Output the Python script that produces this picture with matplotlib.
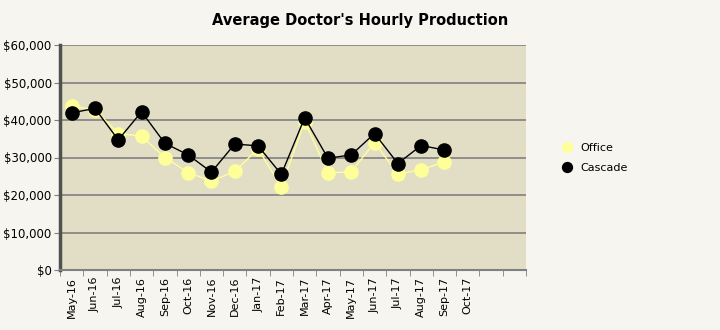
import numpy as np
import matplotlib.pyplot as plt
from matplotlib.ticker import FuncFormatter, FixedLocator

months = ['May-16', 'Jun-16', 'Jul-16', 'Aug-16', 'Sep-16', 'Oct-16', 'Nov-16',
          'Dec-16', 'Jan-17', 'Feb-17', 'Mar-17', 'Apr-17', 'May-17', 'Jun-17',
          'Jul-17', 'Aug-17', 'Sep-17', 'Oct-17']
office = [43700, 42700, 36400, 35700, 30000, 26000, 23700, 26300, 32300, 22200,
          39600, 25900, 26200, 34000, 25600, 26700, 28900, np.nan]
cascade = [41900, 43100, 34700, 42200, 33800, 30700, 26100, 33600, 33100, 25500,
           40600, 29800, 30700, 36400, 28400, 33200, 32000, np.nan]

fig = plt.figure(figsize=(7.2, 3.3), dpi=100, facecolor='#f7f5ef')
ax = fig.add_axes([60/720, 60/330, 466/720, 225/330], facecolor='#e2dec6')

x = np.arange(len(months))
ax.plot(x, office, color='#ffff99', marker='o', markersize=9.5, linewidth=1,
        label='Office', zorder=3)
ax.plot(x, cascade, color='black', marker='o', markersize=9.5, linewidth=1,
        label='Cascade', zorder=4)

ax.set_xlim(-0.5, 19.5)
ax.set_ylim(0, 60000)
ax.set_yticks(range(0, 60001, 10000))
ax.yaxis.set_major_formatter(FuncFormatter(lambda v, p: '${:,.0f}'.format(v)))
ax.grid(axis='y', color='#808080', linewidth=1.2)
ax.set_axisbelow(True)

ax.set_xticks(x)
ax.set_xticklabels(months, rotation=90, fontsize=8)
ax.tick_params(axis='x', which='major', length=0, pad=5)
ax.xaxis.set_minor_locator(FixedLocator(np.arange(-0.5, 20, 1)))
ax.tick_params(axis='x', which='minor', length=4, color='#808080', direction='out')
ax.tick_params(axis='y', length=4, color='#808080', labelsize=8.5, pad=2)

for s in ['top', 'right']:
    ax.spines[s].set_visible(False)
ax.spines['left'].set_color('#505050')
ax.spines['left'].set_linewidth(2.5)
ax.spines['bottom'].set_color('#808080')
ax.spines['bottom'].set_linewidth(1.5)

fig.text(0.5, 310/330, "Average Doctor's Hourly Production", ha='center', va='center',
         fontsize=10.5, fontweight='bold')

leg = fig.legend(loc='center left', bbox_to_anchor=(550/720, 172/330), frameon=False,
                 fontsize=8, handlelength=1.2, markerscale=0.75, labelspacing=0.95,
                 handletextpad=0.6)
for line in leg.get_lines():
    line.set_linestyle('')

fig.savefig('out.png', dpi=100, facecolor=fig.get_facecolor())
